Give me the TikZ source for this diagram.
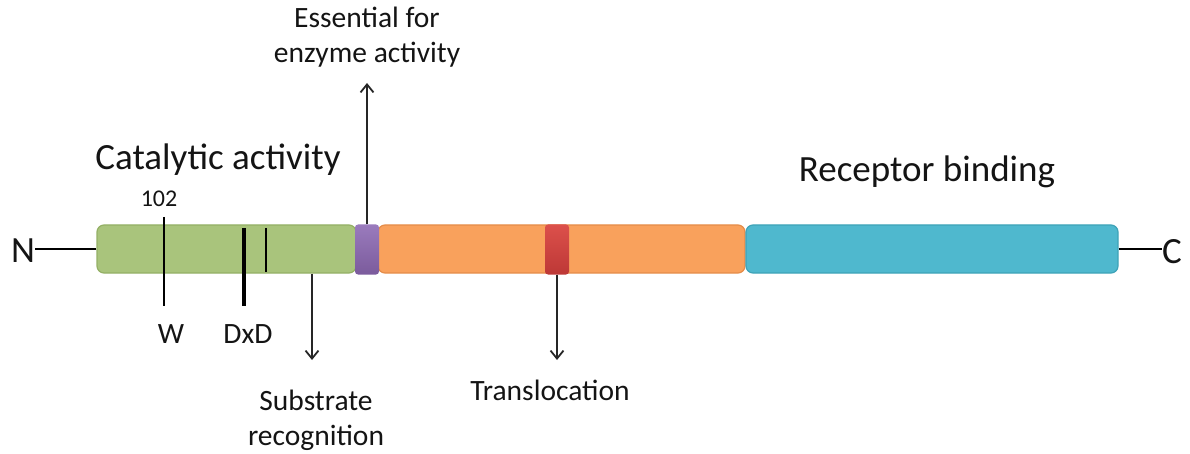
\documentclass[tikz,border=0pt]{standalone}
\usepackage{fontspec}
\setmainfont{Carlito}
\usetikzlibrary{arrows.meta}
\definecolor{gfill}{HTML}{A9C47C}
\definecolor{gdraw}{HTML}{94B065}
\definecolor{ofill}{HTML}{F9A15C}
\definecolor{odraw}{HTML}{E58D4A}
\definecolor{bfill}{HTML}{4FB8CE}
\definecolor{bdraw}{HTML}{3EA3B8}
\definecolor{ptop}{HTML}{9A7BBD}
\definecolor{pbot}{HTML}{7B5B9C}
\definecolor{rtop}{HTML}{DC504B}
\definecolor{rbot}{HTML}{BD3836}
\definecolor{txt}{HTML}{141414}
\tikzset{
  protdom/.style={rectangle, rounded corners=7pt, line width=1.2pt, inner sep=0pt, minimum height=48pt},
  sitebox/.style={rectangle, rounded corners=3pt, inner sep=0pt, minimum width=24pt, minimum height=50pt},
  bigtxt/.style={font=\fontsize{37}{44}\selectfont, text=txt, inner sep=0pt, anchor=base},
  smalltxt/.style={font=\fontsize{29.5}{35}\selectfont, text=txt, inner sep=0pt, anchor=base},
  tinytxt/.style={font=\fontsize{24}{28}\selectfont, text=txt, inner sep=0pt, anchor=base},
  arr/.style={line width=1.8pt, draw=black!85, -{Straight Barb[length=8pt,width=13pt,line width=1.8pt]}},
  tailline/.style={line width=2.4pt, draw=black},
}
\begin{document}
\begin{tikzpicture}[x=1pt,y=-1pt]
\useasboundingbox (0,0) rectangle (1190,454);
% domains
\node[protdom, fill=gfill, draw=gdraw, minimum width=259pt] (green) at (226.5,249) {};
\node[protdom, fill=ofill, draw=odraw, minimum width=367pt] (orange) at (561.5,249) {};
\node[protdom, fill=bfill, draw=bdraw, minimum width=372pt] (blue) at (932,249) {};
\node[sitebox, top color=ptop, bottom color=pbot] (purple) at (367,249.5) {};
\node[sitebox, top color=rtop, bottom color=rbot] (red) at (557,249.5) {};
% ends
\node[bigtxt] (N) at (23,262) {N};
\node[bigtxt] (C) at (1172,263) {C};
\draw[tailline] (green.west) -- (green.west -| N.east);
\draw[tailline] (blue.east) -- (blue.east -| C.west);
% headings
\node[bigtxt] (cat) at (218,170) {Catalytic activity};
\node[bigtxt] (rec) at (927,182) {Receptor binding};
% residue markers
\node[tinytxt] (n102) at (159,207) {102};
\coordinate (wtop) at (164,217);
\coordinate (wbot) at (164,306);
\draw[line width=2.6pt] (wtop) -- (wbot);
\coordinate (dtop) at (244,228);
\coordinate (dbot) at (244,306);
\draw[line width=4.5pt] (dtop) -- (dbot);
\coordinate (ttop) at (266,228);
\coordinate (tbot) at (266,272);
\draw[line width=2pt] (ttop) -- (tbot);
\node[smalltxt] (W) at (171,343) {W};
\node[smalltxt] (DxD) at (248,343) {DxD};
% arrows
\coordinate (subtip) at (312,360);
\draw[arr] (green.south -| subtip) -- (subtip);
\node[smalltxt, align=center, anchor=base] (sub) at (316,445) {Substrate\\recognition};
\coordinate (esstip) at (367,83);
\draw[arr] (purple.north) -- (esstip);
\node[smalltxt, align=center, anchor=base] (ess) at (367,63) {Essential for\\enzyme activity};
\coordinate (trtip) at (557,360);
\draw[arr] (red.south) -- (trtip);
\node[smalltxt] (tr) at (550,400) {Translocation};
\end{tikzpicture}
\end{document}
